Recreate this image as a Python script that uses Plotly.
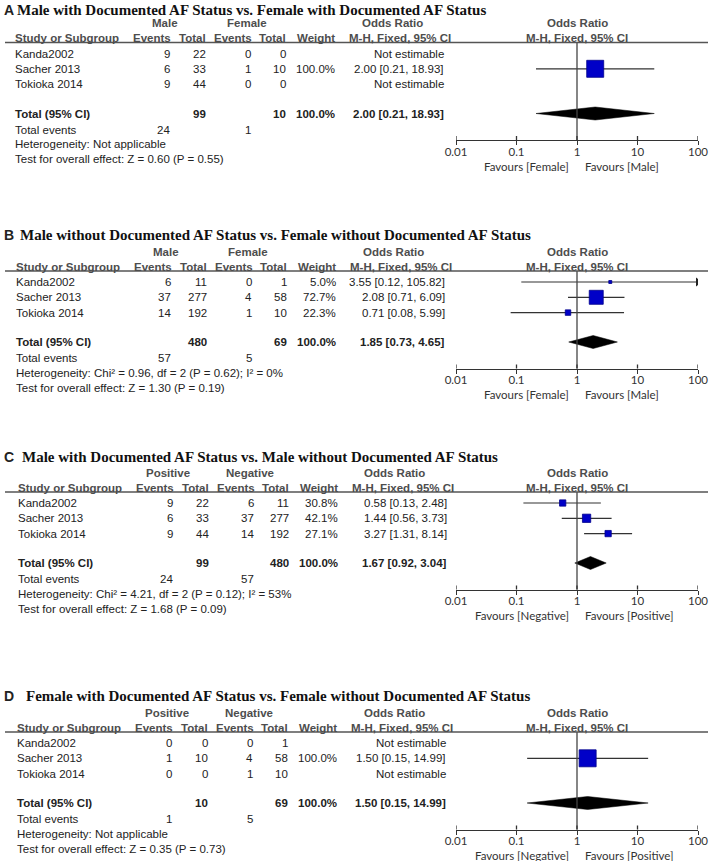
import plotly.graph_objects as go

W, H = 713, 861

# ---------------- data ----------------
panel_letters = ["A", "B", "C", "D"]
titles = [
    "Male with Documented AF Status vs. Female with Documented AF Status",
    "Male without Documented AF Status vs. Female without Documented AF Status",
    "Male with Documented AF Status vs. Male without Documented AF Status",
    "Female with Documented AF Status vs. Female without Documented AF Status",
]
group1 = ["Male", "Male", "Positive", "Positive"]
group2 = ["Female", "Female", "Negative", "Negative"]
studies = ["Kanda2002", "Sacher 2013", "Tokioka 2014"]

events1 = [[9, 6, 9], [6, 37, 14], [9, 6, 9], [0, 1, 0]]
totals1 = [[22, 33, 44], [11, 277, 192], [22, 33, 44], [0, 10, 0]]
events2 = [[0, 1, 0], [0, 4, 1], [6, 37, 14], [0, 4, 1]]
totals2 = [[0, 10, 0], [1, 58, 10], [11, 277, 192], [1, 58, 10]]
weights = [[None, 100.0, None], [5.0, 72.7, 22.3], [30.8, 42.1, 27.1], [None, 100.0, None]]
or_est = [[None, 2.00, None], [3.55, 2.08, 0.71], [0.58, 1.44, 3.27], [None, 1.50, None]]
or_lo = [[None, 0.21, None], [0.12, 0.71, 0.08], [0.13, 0.56, 1.31], [None, 0.15, None]]
or_hi = [[None, 18.93, None], [105.82, 6.09, 5.99], [2.48, 3.73, 8.14], [None, 14.99, None]]

total_n1 = [99, 480, 99, 10]
total_n2 = [10, 69, 480, 69]
total_or = [2.00, 1.85, 1.67, 1.50]
total_lo = [0.21, 0.73, 0.92, 0.15]
total_hi = [18.93, 4.65, 3.04, 14.99]
total_ev1 = [24, 57, 24, 1]
total_ev2 = [1, 5, 57, 5]
heterogeneity = [
    "Not applicable",
    "Chi² = 0.96, df = 2 (P = 0.62); I² = 0%",
    "Chi² = 4.21, df = 2 (P = 0.12); I² = 53%",
    "Not applicable",
]
overall_effect = ["Z = 0.60 (P = 0.55)", "Z = 1.30 (P = 0.19)",
                  "Z = 1.68 (P = 0.09)", "Z = 0.35 (P = 0.73)"]
favours_left = ["Favours [Female]", "Favours [Female]", "Favours [Negative]", "Favours [Negative]"]
favours_right = ["Favours [Male]", "Favours [Male]", "Favours [Positive]", "Favours [Positive]"]
tick_vals = [0.01, 0.1, 1, 10, 100]
tick_text = ["0.01", "0.1", "1", "10", "100"]

# ---------------- style / layout ----------------
base_y = [53.5, 282, 503, 743]          # y of first study row (px)
title_y = [9.5, 235, 457, 696]
title_x = [16, 19, 21, 25]
panel_dx = [0, 1, 3, 2]
row_off = [0, 15.3, 30.6]
marker_px = [[0, 17, 0], [3, 14, 5.5], [6.3, 8.3, 6.3], [0, 17, 0]]
AX_L, AX_R = 456, 698
ONE_X = (AX_L + AX_R) / 2

SANS = "Liberation Sans, Arial, sans-serif"
SERIF = "Liberation Serif, Times New Roman, serif"
FAV = "Lato, Carlito, sans-serif"
TXT = "#222222"
HDR = "#4d4d4d"
FS = 11.5

fig = go.Figure()
annotations = []
shapes = []


def px(x):
    return x / W


def txt(x, y, s, anchor="left", bold=False, color=TXT, size=FS, family=SANS):
    annotations.append(dict(
        x=px(x), y=y, xref="paper", yref="y", text=("<b>%s</b>" % s) if bold else s,
        showarrow=False, xanchor=anchor, yanchor="middle",
        font=dict(family=family, size=size, color=color), borderpad=0))


for p in range(4):
    b = base_y[p]
    dx = panel_dx[p]
    xa = "x" if p == 0 else "x%d" % (p + 1)
    axis_y = b + 86.5
    hline_y = b - 11

    # title
    txt(3, title_y[p], panel_letters[p], bold=True, size=14)
    txt(title_x[p], title_y[p], titles[p], bold=True, size=15, family=SERIF, color="#111111")

    # headers
    c_ev1, c_tot1, c_ev2, c_tot2, c_w, c_or = [v + dx for v in (171, 207, 252, 287, 336, 445)]
    txt(165 + dx, b - 30.5, group1[p], anchor="center", bold=True, color=HDR)
    txt(247 + dx, b - 30.5, group2[p], anchor="center", bold=True, color=HDR)
    txt(392 + dx, b - 30.5, "Odds Ratio", anchor="center", bold=True, color=HDR)
    txt(ONE_X, b - 30.5, "Odds Ratio", anchor="center", bold=True, color=HDR)
    sub = b - 15.5
    txt(14 + dx, sub, "Study or Subgroup", bold=True, color=HDR)
    txt(c_ev1 + 1, sub, "Events", anchor="right", bold=True, color=HDR)
    txt(c_tot1, sub, "Total", anchor="right", bold=True, color=HDR)
    txt(c_ev2 + 1, sub, "Events", anchor="right", bold=True, color=HDR)
    txt(c_tot2, sub, "Total", anchor="right", bold=True, color=HDR)
    txt(c_w, sub, "Weight", anchor="right", bold=True, color=HDR)
    txt(400 + dx, sub, "M-H, Fixed, 95% CI", anchor="center", bold=True, color=HDR)
    txt(ONE_X, sub, "M-H, Fixed, 95% CI", anchor="center", bold=True, color=HDR)
    shapes.append(dict(type="line", xref="paper", yref="y", x0=px(5), x1=px(708),
                       y0=hline_y, y1=hline_y, line=dict(color="#555555", width=1.5)))

    # study rows
    for i, s in enumerate(studies):
        y = b + row_off[i]
        txt(14 + dx, y, s)
        txt(c_ev1, y, str(events1[p][i]), anchor="right")
        txt(c_tot1, y, str(totals1[p][i]), anchor="right")
        txt(c_ev2, y, str(events2[p][i]), anchor="right")
        txt(c_tot2, y, str(totals2[p][i]), anchor="right")
        if weights[p][i] is not None:
            txt(c_w, y, "%.1f%%" % weights[p][i], anchor="right")
        if or_est[p][i] is None:
            txt(c_or, y, "Not estimable", anchor="right")
        else:
            txt(c_or, y, "%.2f [%.2f, %.2f]" % (or_est[p][i], or_lo[p][i], or_hi[p][i]), anchor="right")
            hi = min(or_hi[p][i], tick_vals[-1])
            fig.add_trace(go.Scatter(x=[or_lo[p][i], hi], y=[y, y], xaxis=xa, yaxis="y",
                                     mode="lines", line=dict(color="#333333", width=1.2),
                                     hoverinfo="skip", showlegend=False))
            if or_hi[p][i] > tick_vals[-1]:
                fig.add_trace(go.Scatter(x=[hi], y=[y], xaxis=xa, yaxis="y", mode="markers",
                                         marker=dict(symbol="triangle-right", size=8, color="#222222"),
                                         hoverinfo="skip", showlegend=False))
            fig.add_trace(go.Scatter(x=[or_est[p][i]], y=[y], xaxis=xa, yaxis="y", mode="markers",
                                     marker=dict(symbol="square", size=marker_px[p][i], color="#0000C8",
                                                 line=dict(color="#00008B", width=0.8)),
                                     hoverinfo="skip", showlegend=False))

    # totals
    yt = b + 60
    txt(14 + dx, yt, "Total (95% CI)", bold=True)
    txt(c_tot1, yt, str(total_n1[p]), anchor="right", bold=True)
    txt(c_tot2, yt, str(total_n2[p]), anchor="right", bold=True)
    txt(c_w, yt, "100.0%", anchor="right", bold=True)
    txt(c_or, yt, "%.2f [%.2f, %.2f]" % (total_or[p], total_lo[p], total_hi[p]), anchor="right", bold=True)
    fig.add_trace(go.Scatter(x=[total_lo[p], total_or[p], total_hi[p], total_or[p], total_lo[p]],
                             y=[yt, yt - 6.5, yt, yt + 6.5, yt], xaxis=xa, yaxis="y",
                             mode="lines", fill="toself", fillcolor="#000000",
                             line=dict(color="#000000", width=0.5),
                             hoverinfo="skip", showlegend=False))
    ye = b + 76
    txt(14 + dx, ye, "Total events")
    txt(c_ev1, ye, str(total_ev1[p]), anchor="right")
    txt(c_ev2, ye, str(total_ev2[p]), anchor="right")
    txt(14 + dx, b + 90.5, "Heterogeneity: " + heterogeneity[p])
    txt(14 + dx, b + 105.5, "Test for overall effect: " + overall_effect[p])

    # vertical line at OR = 1
    fig.add_trace(go.Scatter(x=[1, 1], y=[hline_y, axis_y], xaxis=xa, yaxis="y", mode="lines",
                             line=dict(color="#444444", width=1.3), hoverinfo="skip", showlegend=False))
    # upper half of tick marks
    for tv in tick_vals:
        fig.add_trace(go.Scatter(x=[tv, tv], y=[axis_y - 4, axis_y], xaxis=xa, yaxis="y", mode="lines",
                                 line=dict(color="#333333", width=1.3), hoverinfo="skip", showlegend=False))
    # favours
    annotations.append(dict(x=px(ONE_X - 7), y=axis_y + 26, xref="paper", yref="y", text=favours_left[p],
                            showarrow=False, xanchor="right", yanchor="middle", borderpad=0,
                            font=dict(family=FAV, size=11.5, color="#333333")))
    annotations.append(dict(x=px(ONE_X + 7), y=axis_y + 26, xref="paper", yref="y", text=favours_right[p],
                            showarrow=False, xanchor="left", yanchor="middle", borderpad=0,
                            font=dict(family=FAV, size=11.5, color="#333333")))

    axis_cfg = dict(type="log", range=[-2, 2], domain=[px(AX_L), px(AX_R)], anchor="free",
                    position=1 - axis_y / H, showline=True, linecolor="#333333", linewidth=1.3,
                    ticks="outside", ticklen=4, tickwidth=1.3, tickcolor="#333333",
                    ticklabelstandoff=-3,
                    tickvals=tick_vals, ticktext=tick_text, showgrid=False, zeroline=False,
                    tickfont=dict(family=FAV, size=11.5, color="#333333"), fixedrange=True)
    if p > 0:
        axis_cfg["overlaying"] = "x"
    fig.update_layout(**{("xaxis" if p == 0 else "xaxis%d" % (p + 1)): axis_cfg})

fig.update_layout(
    width=W, height=H, margin=dict(l=0, r=0, t=0, b=0, autoexpand=False),
    paper_bgcolor="white", plot_bgcolor="rgba(0,0,0,0)", showlegend=False,
    yaxis=dict(range=[H, 0], domain=[0, 1], visible=False, fixedrange=True),
    annotations=annotations, shapes=shapes,
)

fig.write_html("out.html", config={"displayModeBar": False},
               post_script="document.body.style.margin='0';")
